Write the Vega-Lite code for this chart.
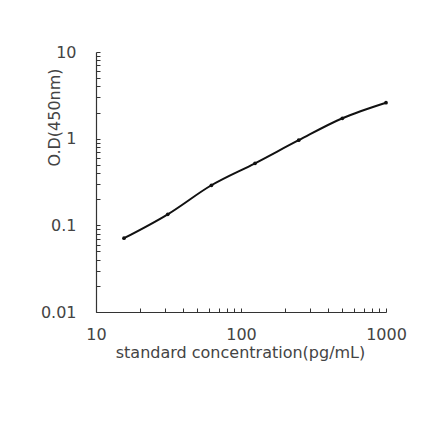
{
  "$schema": "https://vega.github.io/schema/vega-lite/v6.json",
  "autosize": "none",
  "width": 290,
  "height": 260,
  "padding": {"left": 96, "top": 52, "right": 53, "bottom": 129},
  "background": "white",
  "config": {
    "view": {"stroke": null},
    "font": "DejaVu Sans"
  },
  "data": {
    "values": [
      {"conc": 15.6, "od": 0.071},
      {"conc": 31.25, "od": 0.134},
      {"conc": 62.5, "od": 0.29},
      {"conc": 125, "od": 0.52},
      {"conc": 250, "od": 0.96},
      {"conc": 500, "od": 1.72},
      {"conc": 1000, "od": 2.6}
    ]
  },
  "encoding": {
    "x": {
      "field": "conc",
      "type": "quantitative",
      "scale": {"type": "log", "domain": [10, 1000], "nice": false},
      "axis": {
        "title": "standard concentration(pg/mL)",
        "values": [10,20,30,40,50,60,70,80,90,100,200,300,400,500,600,700,800,900,1000],
        "format": "~g",
        "labelExpr": "(datum.value == 10 || datum.value == 100 || datum.value == 1000) ? datum.label : ''",
        "labelOverlap": false,
        "labelFlush": false,
        "grid": false,
        "tickSize": -4,
        "tickColor": "#333",
        "domainColor": "#333",
        "domainWidth": 1.2,
        "labelFontSize": 16,
        "labelColor": "#444",
        "labelPadding": 26,
        "labelBaseline": "middle",
        "titleFontSize": 16,
        "titleFontWeight": "normal",
        "titleColor": "#444",
        "titleX": 144,
        "titleY": 40,
        "titleBaseline": "middle",
        "titleAnchor": null
      }
    },
    "y": {
      "field": "od",
      "type": "quantitative",
      "scale": {"type": "log", "domain": [0.01, 10], "nice": false},
      "axis": {
        "title": "O.D(450nm)",
        "values": [0.01,0.02,0.03,0.04,0.05,0.06,0.07,0.08,0.09,0.1,0.2,0.3,0.4,0.5,0.6,0.7,0.8,0.9,1,2,3,4,5,6,7,8,9,10],
        "format": "~g",
        "labelExpr": "(datum.value == 0.01 || datum.value == 0.1 || datum.value == 1 || datum.value == 10) ? datum.label : ''",
        "labelOverlap": false,
        "labelFlush": false,
        "grid": false,
        "tickSize": -4,
        "tickColor": "#333",
        "domainColor": "#333",
        "domainWidth": 1.2,
        "labelFontSize": 16,
        "labelColor": "#444",
        "labelPadding": 24,
        "titleFontSize": 16,
        "titleFontWeight": "normal",
        "titleColor": "#444",
        "titleAngle": -90,
        "titleX": -42,
        "titleY": 65,
        "titleAlign": "center",
        "titleBaseline": "middle"
      }
    }
  },
  "layer": [
    {"mark": {"type": "line", "color": "#111", "strokeWidth": 2, "interpolate": "monotone"}},
    {"mark": {"type": "point", "filled": true, "color": "#111", "size": 14, "opacity": 1}}
  ]
}
